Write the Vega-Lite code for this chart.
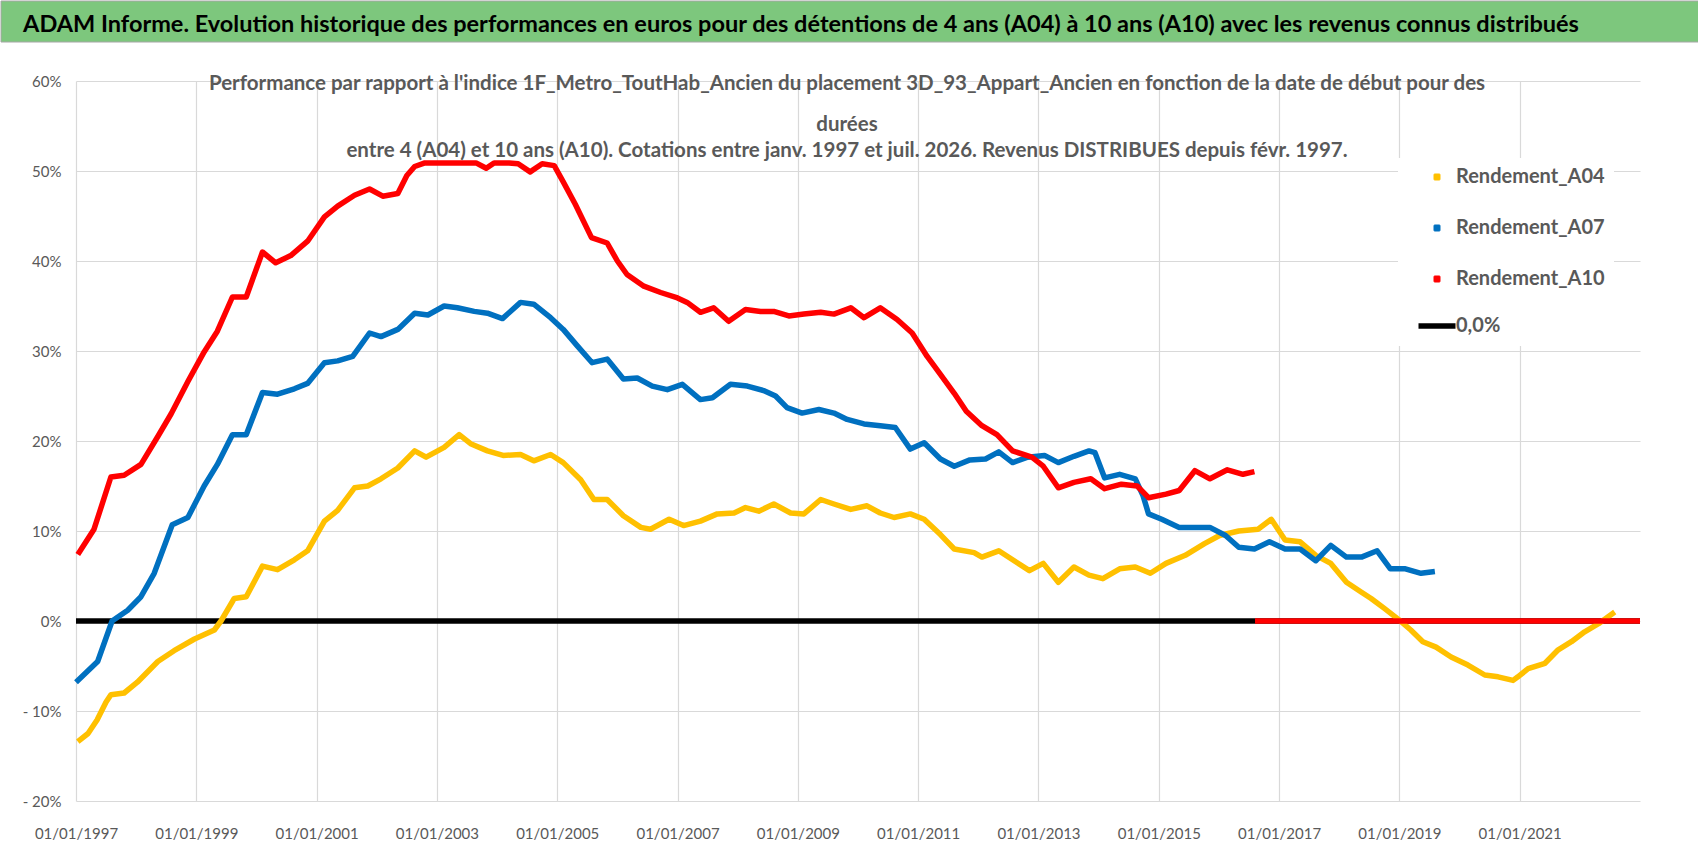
{
  "$schema": "https://vega.github.io/schema/vega-lite/v6.json",
  "background": "white",
  "padding": 0,
  "spacing": 31,
  "config": {
    "view": {"stroke": null},
    "font": "Lato",
    "axis": {"labelFont": "Lato"}
  },
  "vconcat": [
    {
      "width": 1698,
      "height": 41,
      "data": {"values": [{"banner": "ADAM Informe. Evolution historique des performances en euros pour des détentions de 4 ans (A04) à 10 ans (A10) avec les revenus connus distribués"}]},
      "layer": [
        {"mark": {"type": "rect", "fill": "#7DC77D", "stroke": "#A6A6A6", "strokeWidth": 1}},
        {
          "mark": {"type": "text", "font": "Lato", "fontSize": 23.5, "fontWeight": "bold", "color": "#000000", "align": "center", "baseline": "middle", "dx": -49, "dy": 3},
          "encoding": {"text": {"field": "banner"}}
        }
      ]
    },
    {
      "spacing": 0,
      "hconcat": [
        {
          "width": 21,
          "height": 720,
          "data": {"values": [{"spacer": 1}]},
          "mark": {"type": "rect", "fill": "white"}
        },
        {
          "width": 1564,
          "height": 720,
          "title": {
            "text": "Performance par rapport à l'indice 1F_Metro_ToutHab_Ancien  du placement 3D_93_Appart_Ancien en fonction de la date de début pour des",
            "subtitle": ["durées", "entre 4 (A04) et 10 ans (A10). Cotations entre janv. 1997 et juil. 2026. Revenus DISTRIBUES depuis févr. 1997."],
            "orient": "top",
            "frame": "group",
            "anchor": "middle",
            "offset": -87,
            "dx": -11,
            "font": "Lato",
            "fontSize": 20.5,
            "fontWeight": "bold",
            "color": "#595959",
            "subtitleFont": "Lato",
            "subtitleFontSize": 20.5,
            "subtitleFontWeight": "bold",
            "subtitleColor": "#595959",
            "subtitleLineHeight": 26,
            "subtitlePadding": 20
          },
          "data": {
            "values": [
              {"s": "0,0%", "t": 1997.0, "v": 0},
              {"s": "0,0%", "t": 2023.0, "v": 0},

              {"s": "Rendement_A04", "t": 1997.03, "v": -13.4},
              {"s": "Rendement_A04", "t": 1997.2, "v": -12.5},
              {"s": "Rendement_A04", "t": 1997.35, "v": -11.0},
              {"s": "Rendement_A04", "t": 1997.5, "v": -9.0},
              {"s": "Rendement_A04", "t": 1997.58, "v": -8.2},
              {"s": "Rendement_A04", "t": 1997.8, "v": -8.0},
              {"s": "Rendement_A04", "t": 1998.02, "v": -6.8},
              {"s": "Rendement_A04", "t": 1998.36, "v": -4.5},
              {"s": "Rendement_A04", "t": 1998.63, "v": -3.3},
              {"s": "Rendement_A04", "t": 1998.97, "v": -2.0},
              {"s": "Rendement_A04", "t": 1999.3, "v": -1.0},
              {"s": "Rendement_A04", "t": 1999.41, "v": 0.0},
              {"s": "Rendement_A04", "t": 1999.63, "v": 2.5},
              {"s": "Rendement_A04", "t": 1999.83, "v": 2.7},
              {"s": "Rendement_A04", "t": 2000.1, "v": 6.1},
              {"s": "Rendement_A04", "t": 2000.35, "v": 5.7},
              {"s": "Rendement_A04", "t": 2000.63, "v": 6.8},
              {"s": "Rendement_A04", "t": 2000.85, "v": 7.8},
              {"s": "Rendement_A04", "t": 2001.13, "v": 11.1},
              {"s": "Rendement_A04", "t": 2001.35, "v": 12.3},
              {"s": "Rendement_A04", "t": 2001.63, "v": 14.8},
              {"s": "Rendement_A04", "t": 2001.85, "v": 15.0},
              {"s": "Rendement_A04", "t": 2002.07, "v": 15.8},
              {"s": "Rendement_A04", "t": 2002.35, "v": 17.0},
              {"s": "Rendement_A04", "t": 2002.63, "v": 18.9},
              {"s": "Rendement_A04", "t": 2002.82, "v": 18.2},
              {"s": "Rendement_A04", "t": 2003.12, "v": 19.3},
              {"s": "Rendement_A04", "t": 2003.37, "v": 20.7},
              {"s": "Rendement_A04", "t": 2003.56, "v": 19.7},
              {"s": "Rendement_A04", "t": 2003.84, "v": 18.9},
              {"s": "Rendement_A04", "t": 2004.1, "v": 18.4},
              {"s": "Rendement_A04", "t": 2004.39, "v": 18.5},
              {"s": "Rendement_A04", "t": 2004.61, "v": 17.8},
              {"s": "Rendement_A04", "t": 2004.89, "v": 18.5},
              {"s": "Rendement_A04", "t": 2005.1, "v": 17.6},
              {"s": "Rendement_A04", "t": 2005.39, "v": 15.7},
              {"s": "Rendement_A04", "t": 2005.61, "v": 13.5},
              {"s": "Rendement_A04", "t": 2005.83, "v": 13.5},
              {"s": "Rendement_A04", "t": 2006.1, "v": 11.7},
              {"s": "Rendement_A04", "t": 2006.39, "v": 10.4},
              {"s": "Rendement_A04", "t": 2006.55, "v": 10.2},
              {"s": "Rendement_A04", "t": 2006.86, "v": 11.3},
              {"s": "Rendement_A04", "t": 2007.1, "v": 10.6},
              {"s": "Rendement_A04", "t": 2007.38, "v": 11.1},
              {"s": "Rendement_A04", "t": 2007.66, "v": 11.9},
              {"s": "Rendement_A04", "t": 2007.94, "v": 12.0},
              {"s": "Rendement_A04", "t": 2008.13, "v": 12.6},
              {"s": "Rendement_A04", "t": 2008.35, "v": 12.2},
              {"s": "Rendement_A04", "t": 2008.6, "v": 13.0},
              {"s": "Rendement_A04", "t": 2008.88, "v": 12.0},
              {"s": "Rendement_A04", "t": 2009.1, "v": 11.9},
              {"s": "Rendement_A04", "t": 2009.38, "v": 13.5},
              {"s": "Rendement_A04", "t": 2009.6, "v": 13.0},
              {"s": "Rendement_A04", "t": 2009.88, "v": 12.4},
              {"s": "Rendement_A04", "t": 2010.15, "v": 12.8},
              {"s": "Rendement_A04", "t": 2010.37, "v": 12.0},
              {"s": "Rendement_A04", "t": 2010.6, "v": 11.5},
              {"s": "Rendement_A04", "t": 2010.87, "v": 11.9},
              {"s": "Rendement_A04", "t": 2011.1, "v": 11.3},
              {"s": "Rendement_A04", "t": 2011.37, "v": 9.6},
              {"s": "Rendement_A04", "t": 2011.6, "v": 8.0},
              {"s": "Rendement_A04", "t": 2011.93, "v": 7.6},
              {"s": "Rendement_A04", "t": 2012.06, "v": 7.1},
              {"s": "Rendement_A04", "t": 2012.34, "v": 7.8},
              {"s": "Rendement_A04", "t": 2012.85, "v": 5.6},
              {"s": "Rendement_A04", "t": 2013.08, "v": 6.4},
              {"s": "Rendement_A04", "t": 2013.33, "v": 4.3},
              {"s": "Rendement_A04", "t": 2013.59, "v": 6.0},
              {"s": "Rendement_A04", "t": 2013.84, "v": 5.1},
              {"s": "Rendement_A04", "t": 2014.07, "v": 4.7},
              {"s": "Rendement_A04", "t": 2014.35, "v": 5.8},
              {"s": "Rendement_A04", "t": 2014.61, "v": 6.0},
              {"s": "Rendement_A04", "t": 2014.86, "v": 5.3},
              {"s": "Rendement_A04", "t": 2015.12, "v": 6.4},
              {"s": "Rendement_A04", "t": 2015.44, "v": 7.3},
              {"s": "Rendement_A04", "t": 2015.76, "v": 8.6},
              {"s": "Rendement_A04", "t": 2016.01, "v": 9.5},
              {"s": "Rendement_A04", "t": 2016.33, "v": 10.0},
              {"s": "Rendement_A04", "t": 2016.65, "v": 10.2},
              {"s": "Rendement_A04", "t": 2016.87, "v": 11.3},
              {"s": "Rendement_A04", "t": 2017.1, "v": 9.0},
              {"s": "Rendement_A04", "t": 2017.35, "v": 8.8},
              {"s": "Rendement_A04", "t": 2017.61, "v": 7.3},
              {"s": "Rendement_A04", "t": 2017.86, "v": 6.4},
              {"s": "Rendement_A04", "t": 2018.12, "v": 4.3},
              {"s": "Rendement_A04", "t": 2018.37, "v": 3.2},
              {"s": "Rendement_A04", "t": 2018.53, "v": 2.5},
              {"s": "Rendement_A04", "t": 2018.75, "v": 1.4},
              {"s": "Rendement_A04", "t": 2019.0, "v": 0.1},
              {"s": "Rendement_A04", "t": 2019.19, "v": -1.0},
              {"s": "Rendement_A04", "t": 2019.39, "v": -2.3},
              {"s": "Rendement_A04", "t": 2019.61, "v": -2.9},
              {"s": "Rendement_A04", "t": 2019.86, "v": -4.0},
              {"s": "Rendement_A04", "t": 2020.14, "v": -4.9},
              {"s": "Rendement_A04", "t": 2020.42, "v": -6.0},
              {"s": "Rendement_A04", "t": 2020.64, "v": -6.2},
              {"s": "Rendement_A04", "t": 2020.89, "v": -6.6},
              {"s": "Rendement_A04", "t": 2020.97, "v": -6.2},
              {"s": "Rendement_A04", "t": 2021.14, "v": -5.3},
              {"s": "Rendement_A04", "t": 2021.42, "v": -4.7},
              {"s": "Rendement_A04", "t": 2021.64, "v": -3.2},
              {"s": "Rendement_A04", "t": 2021.86, "v": -2.3},
              {"s": "Rendement_A04", "t": 2022.08, "v": -1.2},
              {"s": "Rendement_A04", "t": 2022.31, "v": -0.3},
              {"s": "Rendement_A04", "t": 2022.58, "v": 1.0},

              {"s": "Rendement_A07", "t": 1997.0, "v": -6.8},
              {"s": "Rendement_A07", "t": 1997.36, "v": -4.5},
              {"s": "Rendement_A07", "t": 1997.6, "v": 0.0},
              {"s": "Rendement_A07", "t": 1997.86, "v": 1.2},
              {"s": "Rendement_A07", "t": 1998.08, "v": 2.7},
              {"s": "Rendement_A07", "t": 1998.3, "v": 5.3},
              {"s": "Rendement_A07", "t": 1998.6, "v": 10.7},
              {"s": "Rendement_A07", "t": 1998.86, "v": 11.5},
              {"s": "Rendement_A07", "t": 1999.13, "v": 15.0},
              {"s": "Rendement_A07", "t": 1999.35, "v": 17.4},
              {"s": "Rendement_A07", "t": 1999.6, "v": 20.7},
              {"s": "Rendement_A07", "t": 1999.83, "v": 20.7},
              {"s": "Rendement_A07", "t": 2000.1, "v": 25.4},
              {"s": "Rendement_A07", "t": 2000.35, "v": 25.2},
              {"s": "Rendement_A07", "t": 2000.63, "v": 25.8},
              {"s": "Rendement_A07", "t": 2000.85, "v": 26.4},
              {"s": "Rendement_A07", "t": 2001.13, "v": 28.7},
              {"s": "Rendement_A07", "t": 2001.35, "v": 28.9},
              {"s": "Rendement_A07", "t": 2001.6, "v": 29.4},
              {"s": "Rendement_A07", "t": 2001.88, "v": 32.0},
              {"s": "Rendement_A07", "t": 2002.07, "v": 31.6},
              {"s": "Rendement_A07", "t": 2002.35, "v": 32.4},
              {"s": "Rendement_A07", "t": 2002.63, "v": 34.2},
              {"s": "Rendement_A07", "t": 2002.85, "v": 34.0},
              {"s": "Rendement_A07", "t": 2003.12, "v": 35.0},
              {"s": "Rendement_A07", "t": 2003.34, "v": 34.8},
              {"s": "Rendement_A07", "t": 2003.62, "v": 34.4},
              {"s": "Rendement_A07", "t": 2003.84, "v": 34.2},
              {"s": "Rendement_A07", "t": 2004.09, "v": 33.6},
              {"s": "Rendement_A07", "t": 2004.39, "v": 35.4},
              {"s": "Rendement_A07", "t": 2004.61, "v": 35.2},
              {"s": "Rendement_A07", "t": 2004.89, "v": 33.7},
              {"s": "Rendement_A07", "t": 2005.1, "v": 32.4},
              {"s": "Rendement_A07", "t": 2005.33, "v": 30.6},
              {"s": "Rendement_A07", "t": 2005.58, "v": 28.7},
              {"s": "Rendement_A07", "t": 2005.83, "v": 29.1},
              {"s": "Rendement_A07", "t": 2006.1, "v": 26.9},
              {"s": "Rendement_A07", "t": 2006.33, "v": 27.0},
              {"s": "Rendement_A07", "t": 2006.58, "v": 26.1},
              {"s": "Rendement_A07", "t": 2006.83, "v": 25.7},
              {"s": "Rendement_A07", "t": 2007.08, "v": 26.3},
              {"s": "Rendement_A07", "t": 2007.38, "v": 24.6},
              {"s": "Rendement_A07", "t": 2007.58, "v": 24.8},
              {"s": "Rendement_A07", "t": 2007.88, "v": 26.3},
              {"s": "Rendement_A07", "t": 2008.16, "v": 26.1},
              {"s": "Rendement_A07", "t": 2008.43, "v": 25.6},
              {"s": "Rendement_A07", "t": 2008.63, "v": 25.0},
              {"s": "Rendement_A07", "t": 2008.82, "v": 23.7},
              {"s": "Rendement_A07", "t": 2009.07, "v": 23.1},
              {"s": "Rendement_A07", "t": 2009.35, "v": 23.5},
              {"s": "Rendement_A07", "t": 2009.6, "v": 23.1},
              {"s": "Rendement_A07", "t": 2009.82, "v": 22.4},
              {"s": "Rendement_A07", "t": 2010.1, "v": 21.9},
              {"s": "Rendement_A07", "t": 2010.37, "v": 21.7},
              {"s": "Rendement_A07", "t": 2010.62, "v": 21.5},
              {"s": "Rendement_A07", "t": 2010.87, "v": 19.1},
              {"s": "Rendement_A07", "t": 2011.1, "v": 19.8},
              {"s": "Rendement_A07", "t": 2011.37, "v": 18.0},
              {"s": "Rendement_A07", "t": 2011.6, "v": 17.2},
              {"s": "Rendement_A07", "t": 2011.86, "v": 17.9},
              {"s": "Rendement_A07", "t": 2012.12, "v": 18.0},
              {"s": "Rendement_A07", "t": 2012.34, "v": 18.8},
              {"s": "Rendement_A07", "t": 2012.57, "v": 17.6},
              {"s": "Rendement_A07", "t": 2012.82, "v": 18.2},
              {"s": "Rendement_A07", "t": 2013.1, "v": 18.4},
              {"s": "Rendement_A07", "t": 2013.33, "v": 17.6},
              {"s": "Rendement_A07", "t": 2013.59, "v": 18.3},
              {"s": "Rendement_A07", "t": 2013.84, "v": 18.9},
              {"s": "Rendement_A07", "t": 2013.94, "v": 18.7},
              {"s": "Rendement_A07", "t": 2014.1, "v": 15.9},
              {"s": "Rendement_A07", "t": 2014.35, "v": 16.3},
              {"s": "Rendement_A07", "t": 2014.61, "v": 15.8},
              {"s": "Rendement_A07", "t": 2014.74, "v": 13.9},
              {"s": "Rendement_A07", "t": 2014.83, "v": 11.9},
              {"s": "Rendement_A07", "t": 2015.05, "v": 11.3},
              {"s": "Rendement_A07", "t": 2015.34, "v": 10.4},
              {"s": "Rendement_A07", "t": 2015.6, "v": 10.4},
              {"s": "Rendement_A07", "t": 2015.85, "v": 10.4},
              {"s": "Rendement_A07", "t": 2016.11, "v": 9.5},
              {"s": "Rendement_A07", "t": 2016.33, "v": 8.2},
              {"s": "Rendement_A07", "t": 2016.59, "v": 8.0},
              {"s": "Rendement_A07", "t": 2016.84, "v": 8.8},
              {"s": "Rendement_A07", "t": 2017.1, "v": 8.0},
              {"s": "Rendement_A07", "t": 2017.35, "v": 8.0},
              {"s": "Rendement_A07", "t": 2017.61, "v": 6.7},
              {"s": "Rendement_A07", "t": 2017.86, "v": 8.4},
              {"s": "Rendement_A07", "t": 2018.12, "v": 7.1},
              {"s": "Rendement_A07", "t": 2018.37, "v": 7.1},
              {"s": "Rendement_A07", "t": 2018.63, "v": 7.8},
              {"s": "Rendement_A07", "t": 2018.85, "v": 5.8},
              {"s": "Rendement_A07", "t": 2019.1, "v": 5.8},
              {"s": "Rendement_A07", "t": 2019.36, "v": 5.3},
              {"s": "Rendement_A07", "t": 2019.59, "v": 5.5},

              {"s": "Rendement_A10", "p": 1, "t": 1997.03, "v": 7.4},
              {"s": "Rendement_A10", "p": 1, "t": 1997.3, "v": 10.2},
              {"s": "Rendement_A10", "p": 1, "t": 1997.58, "v": 16.0},
              {"s": "Rendement_A10", "p": 1, "t": 1997.8, "v": 16.2},
              {"s": "Rendement_A10", "p": 1, "t": 1998.08, "v": 17.4},
              {"s": "Rendement_A10", "p": 1, "t": 1998.36, "v": 20.5},
              {"s": "Rendement_A10", "p": 1, "t": 1998.58, "v": 23.0},
              {"s": "Rendement_A10", "p": 1, "t": 1998.86, "v": 26.6},
              {"s": "Rendement_A10", "p": 1, "t": 1999.13, "v": 29.9},
              {"s": "Rendement_A10", "p": 1, "t": 1999.35, "v": 32.2},
              {"s": "Rendement_A10", "p": 1, "t": 1999.6, "v": 36.0},
              {"s": "Rendement_A10", "p": 1, "t": 1999.83, "v": 36.0},
              {"s": "Rendement_A10", "p": 1, "t": 2000.1, "v": 41.0},
              {"s": "Rendement_A10", "p": 1, "t": 2000.32, "v": 39.8},
              {"s": "Rendement_A10", "p": 1, "t": 2000.57, "v": 40.6},
              {"s": "Rendement_A10", "p": 1, "t": 2000.85, "v": 42.2},
              {"s": "Rendement_A10", "p": 1, "t": 2001.13, "v": 44.9},
              {"s": "Rendement_A10", "p": 1, "t": 2001.35, "v": 46.1},
              {"s": "Rendement_A10", "p": 1, "t": 2001.63, "v": 47.3},
              {"s": "Rendement_A10", "p": 1, "t": 2001.88, "v": 48.0},
              {"s": "Rendement_A10", "p": 1, "t": 2002.1, "v": 47.2},
              {"s": "Rendement_A10", "p": 1, "t": 2002.35, "v": 47.5},
              {"s": "Rendement_A10", "p": 1, "t": 2002.5, "v": 49.5},
              {"s": "Rendement_A10", "p": 1, "t": 2002.63, "v": 50.5},
              {"s": "Rendement_A10", "p": 1, "t": 2002.8, "v": 50.9},
              {"s": "Rendement_A10", "p": 1, "t": 2003.1, "v": 50.9},
              {"s": "Rendement_A10", "p": 1, "t": 2003.4, "v": 50.9},
              {"s": "Rendement_A10", "p": 1, "t": 2003.65, "v": 50.9},
              {"s": "Rendement_A10", "p": 1, "t": 2003.82, "v": 50.3},
              {"s": "Rendement_A10", "p": 1, "t": 2003.95, "v": 50.9},
              {"s": "Rendement_A10", "p": 1, "t": 2004.2, "v": 50.9},
              {"s": "Rendement_A10", "p": 1, "t": 2004.35, "v": 50.8},
              {"s": "Rendement_A10", "p": 1, "t": 2004.55, "v": 49.9},
              {"s": "Rendement_A10", "p": 1, "t": 2004.75, "v": 50.8},
              {"s": "Rendement_A10", "p": 1, "t": 2004.95, "v": 50.6},
              {"s": "Rendement_A10", "p": 1, "t": 2005.1, "v": 48.8},
              {"s": "Rendement_A10", "p": 1, "t": 2005.3, "v": 46.3},
              {"s": "Rendement_A10", "p": 1, "t": 2005.57, "v": 42.6},
              {"s": "Rendement_A10", "p": 1, "t": 2005.83, "v": 42.0},
              {"s": "Rendement_A10", "p": 1, "t": 2006.0, "v": 40.0},
              {"s": "Rendement_A10", "p": 1, "t": 2006.16, "v": 38.5},
              {"s": "Rendement_A10", "p": 1, "t": 2006.44, "v": 37.2},
              {"s": "Rendement_A10", "p": 1, "t": 2006.72, "v": 36.5},
              {"s": "Rendement_A10", "p": 1, "t": 2007.0, "v": 35.9},
              {"s": "Rendement_A10", "p": 1, "t": 2007.16, "v": 35.4},
              {"s": "Rendement_A10", "p": 1, "t": 2007.38, "v": 34.3},
              {"s": "Rendement_A10", "p": 1, "t": 2007.6, "v": 34.8},
              {"s": "Rendement_A10", "p": 1, "t": 2007.85, "v": 33.3},
              {"s": "Rendement_A10", "p": 1, "t": 2008.13, "v": 34.6},
              {"s": "Rendement_A10", "p": 1, "t": 2008.38, "v": 34.4},
              {"s": "Rendement_A10", "p": 1, "t": 2008.6, "v": 34.4},
              {"s": "Rendement_A10", "p": 1, "t": 2008.85, "v": 33.9},
              {"s": "Rendement_A10", "p": 1, "t": 2009.1, "v": 34.1},
              {"s": "Rendement_A10", "p": 1, "t": 2009.38, "v": 34.3},
              {"s": "Rendement_A10", "p": 1, "t": 2009.6, "v": 34.1},
              {"s": "Rendement_A10", "p": 1, "t": 2009.88, "v": 34.8},
              {"s": "Rendement_A10", "p": 1, "t": 2010.1, "v": 33.7},
              {"s": "Rendement_A10", "p": 1, "t": 2010.37, "v": 34.8},
              {"s": "Rendement_A10", "p": 1, "t": 2010.65, "v": 33.5},
              {"s": "Rendement_A10", "p": 1, "t": 2010.9, "v": 32.0},
              {"s": "Rendement_A10", "p": 1, "t": 2011.15, "v": 29.4},
              {"s": "Rendement_A10", "p": 1, "t": 2011.37, "v": 27.4},
              {"s": "Rendement_A10", "p": 1, "t": 2011.6, "v": 25.3},
              {"s": "Rendement_A10", "p": 1, "t": 2011.8, "v": 23.3},
              {"s": "Rendement_A10", "p": 1, "t": 2012.06, "v": 21.7},
              {"s": "Rendement_A10", "p": 1, "t": 2012.31, "v": 20.7},
              {"s": "Rendement_A10", "p": 1, "t": 2012.57, "v": 18.9},
              {"s": "Rendement_A10", "p": 1, "t": 2012.89, "v": 18.2},
              {"s": "Rendement_A10", "p": 1, "t": 2013.08, "v": 17.2},
              {"s": "Rendement_A10", "p": 1, "t": 2013.33, "v": 14.8},
              {"s": "Rendement_A10", "p": 1, "t": 2013.59, "v": 15.4},
              {"s": "Rendement_A10", "p": 1, "t": 2013.87, "v": 15.8},
              {"s": "Rendement_A10", "p": 1, "t": 2014.1, "v": 14.7},
              {"s": "Rendement_A10", "p": 1, "t": 2014.38, "v": 15.2},
              {"s": "Rendement_A10", "p": 1, "t": 2014.64, "v": 15.0},
              {"s": "Rendement_A10", "p": 1, "t": 2014.83, "v": 13.7},
              {"s": "Rendement_A10", "p": 1, "t": 2015.12, "v": 14.1},
              {"s": "Rendement_A10", "p": 1, "t": 2015.34, "v": 14.5},
              {"s": "Rendement_A10", "p": 1, "t": 2015.6, "v": 16.7},
              {"s": "Rendement_A10", "p": 1, "t": 2015.85, "v": 15.8},
              {"s": "Rendement_A10", "p": 1, "t": 2016.14, "v": 16.8},
              {"s": "Rendement_A10", "p": 1, "t": 2016.4, "v": 16.3},
              {"s": "Rendement_A10", "p": 1, "t": 2016.59, "v": 16.6},
              {"s": "Rendement_A10", "p": 2, "t": 2016.6, "v": 0},
              {"s": "Rendement_A10", "p": 2, "t": 2023.0, "v": 0}
            ]
          },
          "mark": {"type": "line", "strokeJoin": "round"},
          "encoding": {
            "x": {
              "field": "t",
              "type": "quantitative",
              "scale": {"domain": [1997, 2023], "nice": false, "zero": false},
              "axis": {
                "values": [1997, 1999, 2001, 2003, 2005, 2007, 2009, 2011, 2013, 2015, 2017, 2019, 2021],
                "labelExpr": "'01/01/' + datum.value",
                "title": null,
                "grid": true,
                "gridColor": "#D9D9D9",
                "gridWidth": 1.2,
                "domain": false,
                "ticks": false,
                "labelFlush": false,
                "labelOverlap": false,
                "labelFontSize": 15,
                "labelColor": "#595959",
                "labelPadding": 25.5
              }
            },
            "y": {
              "field": "v",
              "type": "quantitative",
              "scale": {"domain": [-20, 60], "nice": false},
              "axis": {
                "values": [-20, -10, 0, 10, 20, 30, 40, 50, 60],
                "labelExpr": "datum.value < 0 ? '- ' + abs(datum.value) + '%' : datum.value + '%'",
                "title": null,
                "grid": true,
                "gridColor": "#D9D9D9",
                "gridWidth": 1.2,
                "domain": false,
                "ticks": false,
                "labelFlush": false,
                "labelOverlap": false,
                "labelFontSize": 15,
                "labelColor": "#595959",
                "labelPadding": 15
              }
            },
            "color": {
              "field": "s",
              "type": "nominal",
              "scale": {
                "domain": ["Rendement_A04", "Rendement_A07", "Rendement_A10", "0,0%"],
                "range": ["#FFC000", "#0070C0", "#FF0000", "#000000"]
              },
              "legend": {
                "title": null,
                "orient": "none",
                "legendX": 1397,
                "legendY": 157,
                "fillColor": "white",
                "padding": 9,
                "symbolOffset": 20,
                "symbolSize": 1369,
                "labelOffset": 9,
                "labelFont": "Lato",
                "labelFontSize": 20,
                "labelFontWeight": "bold",
                "labelColor": "#595959",
                "labelLimit": 400,
                "rowPadding": 21,
                "encode": {
                  "symbols": {
                    "update": {
                      "shape": {"signal": "datum.value === '0,0%' ? 'stroke' : 'M-1,0L1,0M0,-1L0,1'"},
                      "size": {"signal": "datum.value === '0,0%' ? 1369 : 49"},
                      "stroke": {"scale": "color", "field": "value"},
                      "strokeWidth": {"signal": "datum.value === '0,0%' ? 4.5 : 1.4"},
                      "fill": {"value": "transparent"}
                    }
                  }
                }
              }
            },
            "strokeWidth": {
              "field": "s",
              "type": "nominal",
              "scale": {
                "domain": ["Rendement_A04", "Rendement_A07", "Rendement_A10", "0,0%"],
                "range": [5.5, 5.5, 5.5, 4]
              },
              "legend": null
            },
            "detail": {"field": "p"}
          }
        }
      ]
    }
  ]
}
